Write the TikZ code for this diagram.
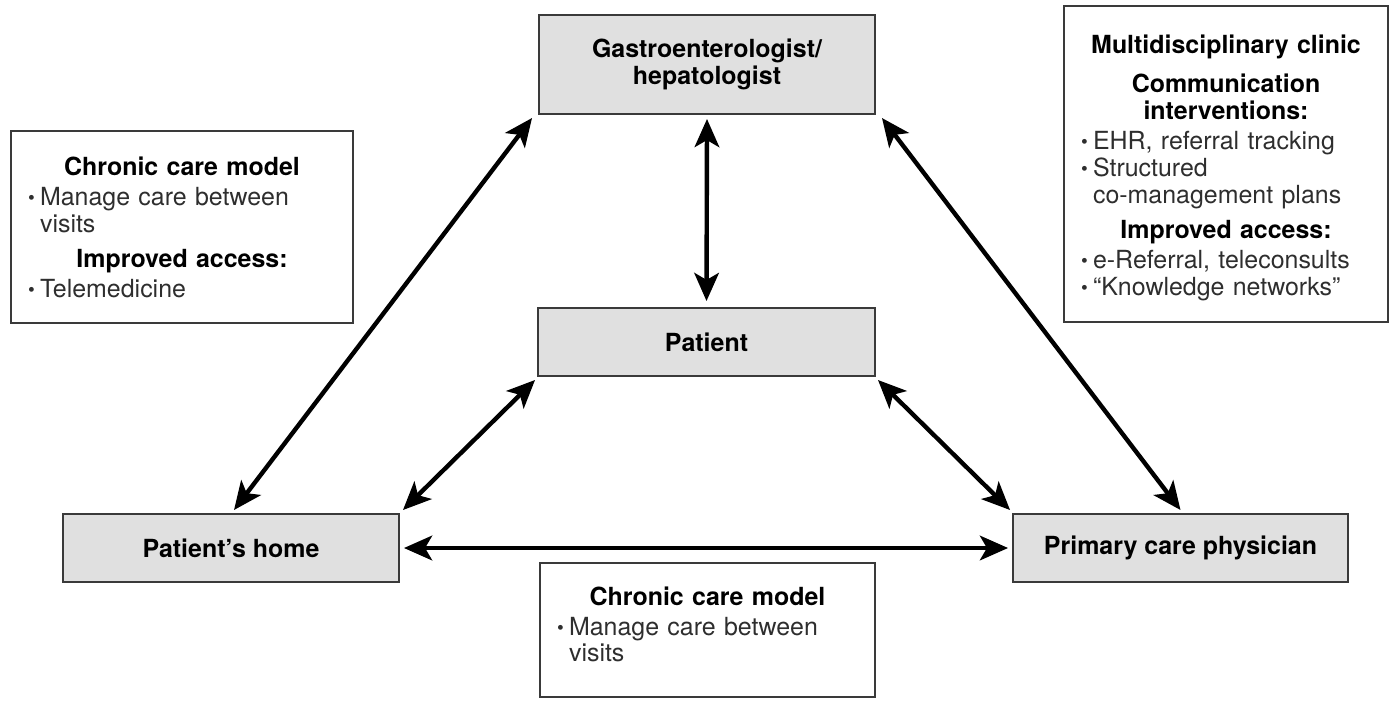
\documentclass[tikz,border=0pt]{standalone}
\usepackage{fontspec}
\setmainfont{TeX Gyre Heros}
\usetikzlibrary{arrows.meta,calc}
\definecolor{boxgray}{HTML}{E0E0E0}
\definecolor{edgegray}{HTML}{3A3A3A}
\definecolor{txtgray}{HTML}{2E2E2E}
\newcommand{\bul}{\raisebox{0.6pt}{\fontsize{11}{11}\selectfont\textbullet}}
\newcommand{\hd}[2][0pt]{\par\vspace{#1}{\centering\bfseries\color{black}#2\par}\vspace{2pt}}
\newcommand{\itm}[1]{\par\hangindent=0.24cm\hangafter=1\noindent\makebox[0.24cm][l]{\bul}#1\par}

\begin{document}
\begin{tikzpicture}[
  x=0.02cm, y=-0.02cm,
  actor/.style={draw=edgegray, fill=boxgray, line width=1pt, align=center,
    font=\fontsize{14.2}{15.2}\selectfont\bfseries, minimum height=1.36cm,
    minimum width=6.72cm, inner sep=2pt, outer sep=0pt},
  note/.style={draw=edgegray, line width=1pt, align=left, text=txtgray,
    font=\fontsize{14.2}{15.2}\selectfont, inner xsep=0.34cm, outer sep=0pt},
  link/.style={<->, >={Stealth[length=16pt,width=14pt,inset=4pt]}, line width=2.5pt}
]
  \useasboundingbox (0,0) rectangle (1391,708);
  % the four places of care
  \node[actor, minimum height=1.98cm] (gastro) at (707,64.5) {Gastroenterologist/\\hepatologist};
  \node[actor, minimum width=6.74cm] (patient) at (706.5,342) {Patient};
  \node[actor] (home) at (231,548) {Patient’s home};
  \node[actor, minimum width=6.7cm] (pcp) at (1180.5,548) {Primary care physician};
  % notes
  \node[note, text width=6.16cm, minimum height=3.84cm] (chronic) at (182,227) {%
    \hd{Chronic care model}
    \itm{Manage care between\newline visits}
    \hd[5pt]{Improved access:}
    \itm{Telemedicine}\vspace{4pt}};
  \node[note, text width=5.8cm, minimum height=6.32cm] (clinic) at (1226,164) {%
    \hd{Multidisciplinary clinic}
    \hd[5pt]{Communication\\interventions:}
    \itm{EHR, referral tracking}
    \itm{Structured\newline co-management plans}
    \hd[5pt]{Improved access:}
    \itm{e-Referral, teleconsults}
    \itm{“Knowledge networks”}};
  \node[note, text width=6.02cm, minimum height=2.68cm] (between) at (707.5,630) {%
    \hd{Chronic care model}
    \itm{Manage care between\newline visits}\vspace{11pt}};
  % links
  \draw[link] ($(gastro.south west)+(-7,4)$) -- ($(home.north)+(3,-4)$);
  \draw[link] ($(gastro.south)+(0,5)$) -- ($(patient.north)+(0,-7)$);
  \draw[link] ($(gastro.south east)+(7,4)$) -- ($(pcp.north)+(0,-4)$);
  \draw[link] ($(patient.south west)+(-3,4)$) -- ($(home.north east)+(4,-4)$);
  \draw[link] ($(patient.south east)+(3,4)$) -- ($(pcp.north west)+(-3,-4)$);
  \draw[link] ($(home.east)+(5,0)$) -- ($(pcp.west)+(-5,0)$);
\end{tikzpicture}
\end{document}
